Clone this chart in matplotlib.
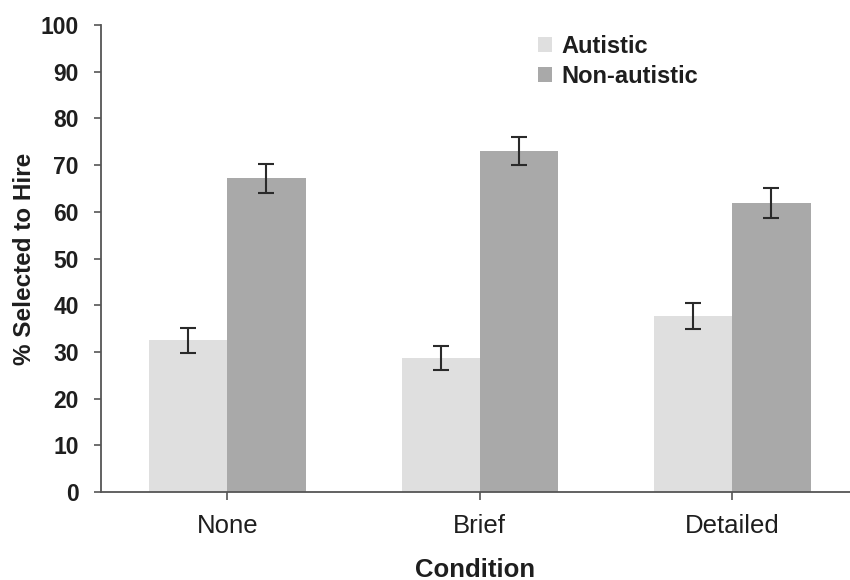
import numpy as np
import matplotlib
matplotlib.use("Agg")
import matplotlib.pyplot as plt

plt.rcParams["font.family"] = ["Liberation Sans", "DejaVu Sans"]

conditions = ["None", "Brief", "Detailed"]
autistic = [32.5, 28.7, 37.7]
autistic_err = [2.7, 2.6, 2.7]
non_autistic = [67.2, 73.0, 61.9]
non_autistic_err = [3.1, 3.0, 3.3]

LIGHT = "#dfdfdf"
DARK = "#a9a9a9"
TEXT = "#1e1e1e"
AXIS = "#555555"
BAR_W = 0.31

fig = plt.figure(figsize=(8.5, 5.8), dpi=100)
ax = fig.add_axes([101 / 850, 88 / 580, 749 / 850, 467 / 580])

xs = np.arange(len(conditions))
err_kw = dict(ecolor="#2a2a2a", elinewidth=1.5, capsize=5.5, capthick=1.5)
ax.bar(xs - BAR_W / 2, autistic, BAR_W, color=LIGHT, label="Autistic",
       yerr=autistic_err, error_kw=err_kw)
ax.bar(xs + BAR_W / 2, non_autistic, BAR_W, color=DARK, label="Non-autistic",
       yerr=non_autistic_err, error_kw=err_kw)

ax.set_xlim(-0.5, 2.466)
ax.set_ylim(0, 100)
ax.set_yticks(range(0, 101, 10))
ax.set_xticks(xs)
ax.set_xticklabels(conditions)

for side in ["top", "right"]:
    ax.spines[side].set_visible(False)
for side in ["left", "bottom"]:
    ax.spines[side].set_color(AXIS)
    ax.spines[side].set_linewidth(1.3)

ax.tick_params(axis="y", direction="out", length=5, width=1.2, color=AXIS,
               labelsize=16.5, labelcolor=TEXT, pad=11)
ax.tick_params(axis="x", direction="out", length=6, width=1.2, color=AXIS,
               labelsize=18.5, labelcolor=TEXT, pad=10)
for lbl in ax.get_yticklabels():
    lbl.set_fontweight("bold")

ax.set_ylabel("% Selected to Hire", fontsize=17.5, fontweight="bold",
              color=TEXT, labelpad=3)
ax.set_xlabel("Condition", fontsize=18.5, fontweight="bold", color=TEXT,
              labelpad=14)

ax.legend(loc="upper left", bbox_to_anchor=(538 / 850, 1 - 35 / 580),
          bbox_transform=fig.transFigure, frameon=False,
          handlelength=0.6, handleheight=0.6, handletextpad=0.4,
          labelspacing=0.3, prop={"size": 17, "weight": "bold"},
          labelcolor=TEXT, borderaxespad=0, borderpad=0)

fig.savefig("out.png", dpi=100)
